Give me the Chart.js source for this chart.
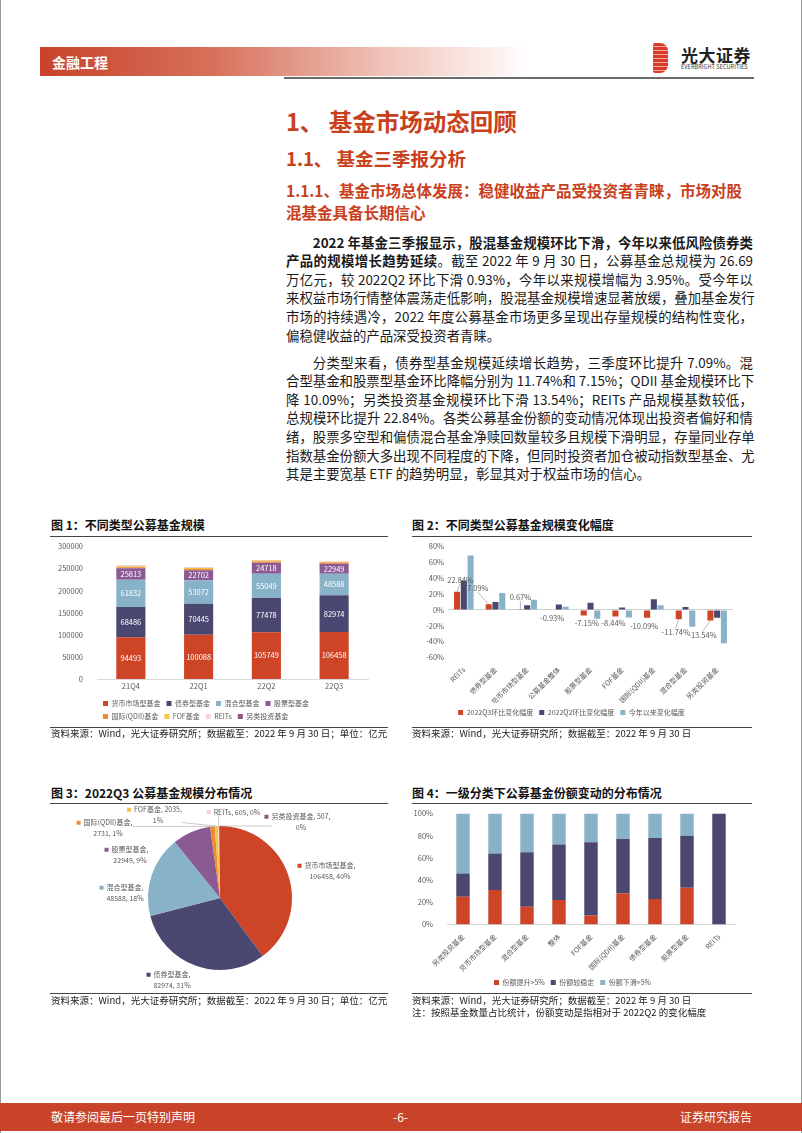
<!DOCTYPE html>
<html>
<head>
<meta charset="utf-8">
<script src="https://cdn.jsdelivr.net/npm/chart.js@4.4.0/dist/chart.umd.min.js"></script>
<style>
body{margin:0;width:802px;height:1133px;position:relative;background:#fff;overflow:hidden;
  font-family:"Noto Sans CJK SC",sans-serif;color:#222;}
.abs{position:absolute;}
.frame{position:absolute;top:0;bottom:0;width:1px;background:#9a9a9a;}
.hbar{left:40px;top:47px;width:490px;height:29px;
  background:linear-gradient(to right,#c8432a 0%,#d7705a 35%,#efc3b8 70%,rgba(255,255,255,0) 100%);}
.htxt{left:52px;top:52px;font-size:14px;font-weight:bold;color:#fff;line-height:20px;}
.hline{left:284px;top:77px;width:470px;height:2px;background:#6b6b6b;}
.h1{left:286px;top:105px;font-size:23.5px;font-weight:bold;color:#c8401c;line-height:32px;}
.h2{left:286px;top:145px;font-size:18.5px;font-weight:bold;color:#c8401c;line-height:26px;}
.h3{left:286px;top:180px;width:470px;font-size:15.5px;font-weight:bold;color:#c8401c;line-height:21.5px;}
.para{left:286px;width:467px;font-size:13.4px;line-height:18.6px;color:#1a1a1a;}
.para div{white-space:nowrap;text-align:justify;text-align-last:justify;}
.para div.first{text-indent:2em;}
.para div.last{text-align-last:left;}
.ftitle{font-size:12px;font-weight:bold;color:#111;line-height:16px;}
.rule{height:1px;background:#444;}
.src{font-size:9.5px;color:#222;line-height:12px;white-space:nowrap;}
.foot{left:0;top:1103px;width:802px;height:28px;background:#c8432a;}
.ftxt{top:1109px;font-size:12px;color:#fff;line-height:16px;}
canvas{position:absolute;}
</style>
</head>
<body>
<div class="frame" style="left:0"></div>
<div class="frame" style="left:801px"></div>

<div class="abs hbar"></div>
<div class="abs htxt">金融工程</div>
<div class="abs hline"></div>
<div class="abs" style="left:653px;top:43px;width:15px;height:30px;border-radius:2px 8px 8px 2px;
  background:repeating-linear-gradient(to bottom,#d83a2a 0,#d83a2a 3px,#f2a89c 3px,#f2a89c 4px);"></div>
<div class="abs" style="left:681px;top:44px;font-size:17px;font-weight:bold;color:#222;line-height:22px;letter-spacing:0.5px;">光大证券</div>
<div class="abs" style="left:681px;top:64px;font-size:5.5px;color:#333;line-height:7px;letter-spacing:0.1px;">EVERBRIGHT SECURITIES</div>

<div class="abs h1">1、 基金市场动态回顾</div>
<div class="abs h2">1.1、 基金三季报分析</div>
<div class="abs h3">1.1.1、基金市场总体发展：稳健收益产品受投资者青睐，市场对股<br>混基金具备长期信心</div>

<div class="abs para" style="top:232.7px;">
<div class="first"><b>2022 年基金三季报显示，股混基金规模环比下滑，今年以来低风险债券类</b></div>
<div><b>产品的规模增长趋势延续</b>。截至 2022 年 9 月 30 日，公募基金总规模为 26.69</div>
<div>万亿元，较 2022Q2 环比下滑 0.93%，今年以来规模增幅为 3.95%。受今年以</div>
<div>来权益市场行情整体震荡走低影响，股混基金规模增速显著放缓，叠加基金发行</div>
<div>市场的持续遇冷，2022 年度公募基金市场更多呈现出存量规模的结构性变化，</div>
<div class="last">偏稳健收益的产品深受投资者青睐。</div>
</div>
<div class="abs para" style="top:352.7px;">
<div class="first">分类型来看，债券型基金规模延续增长趋势，三季度环比提升 7.09%。混</div>
<div>合型基金和股票型基金环比降幅分别为 11.74%和 7.15%；QDII 基金规模环比下</div>
<div>降 10.09%；另类投资基金规模环比下滑 13.54%；REITs 产品规模基数较低，</div>
<div>总规模环比提升 22.84%。各类公募基金份额的变动情况体现出投资者偏好和情</div>
<div>绪，股票多空型和偏债混合基金净赎回数量较多且规模下滑明显，存量同业存单</div>
<div>指数基金份额大多出现不同程度的下降，但同时投资者加仓被动指数型基金、尤</div>
<div class="last">其是主要宽基 ETF 的趋势明显，彰显其对于权益市场的信心。</div>
</div>

<!-- 图1 / 图2 -->
<div class="abs ftitle" style="left:51px;top:517px;">图 1：不同类型公募基金规模</div>
<div class="abs rule" style="left:50px;top:536px;width:338px;"></div>
<div class="abs ftitle" style="left:412px;top:517px;">图 2：不同类型公募基金规模变化幅度</div>
<div class="abs rule" style="left:412px;top:536px;width:340px;"></div>
<canvas id="c1" width="340" height="194" style="left:50px;top:536px;"></canvas>
<canvas id="c2" width="350" height="188" style="left:410px;top:538px;"></canvas>
<div class="abs rule" style="left:50px;top:727px;width:338px;"></div>
<div class="abs rule" style="left:412px;top:727px;width:340px;"></div>
<div class="abs src" style="left:51px;top:727px;">资料来源：Wind，光大证券研究所；数据截至：2022 年 9 月 30 日；单位：亿元</div>
<div class="abs src" style="left:412px;top:727px;">资料来源：Wind，光大证券研究所；数据截至：2022 年 9 月 30 日</div>

<!-- 图3 / 图4 -->
<div class="abs ftitle" style="left:51px;top:785px;">图 3：2022Q3 公募基金规模分布情况</div>
<div class="abs rule" style="left:50px;top:803px;width:338px;"></div>
<div class="abs ftitle" style="left:412px;top:785px;">图 4：一级分类下公募基金份额变动的分布情况</div>
<div class="abs rule" style="left:412px;top:803px;width:340px;"></div>
<canvas id="c3" width="340" height="187" style="left:50px;top:805px;"></canvas>
<canvas id="c4" width="350" height="193" style="left:410px;top:803px;"></canvas>
<div class="abs rule" style="left:50px;top:993px;width:338px;"></div>
<div class="abs rule" style="left:412px;top:993px;width:340px;"></div>
<div class="abs src" style="left:51px;top:994px;">资料来源：Wind，光大证券研究所；数据截至：2022 年 9 月 30 日；单位：亿元</div>
<div class="abs src" style="left:412px;top:994px;">资料来源：Wind，光大证券研究所；数据截至：2022 年 9 月 30 日</div>
<div class="abs src" style="left:412px;top:1006px;">注：按照基金数量占比统计，份额变动是指相对于 2022Q2 的变化幅度</div>

<div class="abs foot"></div>
<div class="abs ftxt" style="left:51px;">敬请参阅最后一页特别声明</div>
<div class="abs ftxt" style="left:393px;">-6-</div>
<div class="abs ftxt" style="right:50px;">证券研究报告</div>

<script>
// 图1：不同类型公募基金规模（亿元）
const quarters = ['21Q4', '22Q1', '22Q2', '22Q3'];
const moneyFund = [94493, 100088, 105749, 106458];
const bondFund = [68486, 70445, 77478, 82974];
const mixedFund = [61832, 53072, 55049, 48588];
const stockFund = [25813, 22702, 24718, 22949];
const qdiiFund = [2576, 2676, 3037, 2731];
const fofFund = [2249, 2158, 2223, 2035];
const reitsFund = [359, 360, 493, 605];
const altFund = [874, 651, 586, 507];
const fundTypes = ['货币市场型基金', '债券型基金', '混合型基金', '股票型基金', '国际(QDII)基金', 'FOF基金', 'REITs', '另类投资基金'];

// 图2：规模变化幅度（%）
const changeCats = ['REITs', '债券型基金', '货币市场型基金', '公募基金整体', '股票型基金', 'FOF基金', '国际(QDII)基金', '混合型基金', '另类投资基金'];
const chgQ3 = [22.84, 7.09, 0.67, -0.93, -7.15, -8.44, -10.09, -11.74, -13.54];
const chgQ2 = [37.0, 10.0, 5.7, 6.8, 8.9, 3.0, 13.5, 3.7, -10.0];
const chgYtd = [68.6, 21.2, 12.7, 3.95, -11.1, -9.5, 6.0, -21.4, -42.0];
const changeSeries = ['2022Q3环比变化幅度', '2022Q2环比变化幅度', '今年以来变化幅度'];

// 图4：份额变动分布（%）
const shareCats = ['另类投资基金', '货币市场型基金', '混合型基金', '整体', 'FOF基金', '国际(QDII)基金', '债券型基金', '股票型基金', 'REITs'];
const shareUp = [25, 31, 16, 22, 8, 28, 23, 33, 0];
const shareStable = [21, 33, 49, 50, 66, 49, 55, 47, 100];
const shareDown = [54, 36, 35, 28, 26, 23, 22, 20, 0];
const shareSeries = ['份额提升>5%', '份额较稳定', '份额下滑>5%'];

const RED = '#cd4427', NAVY = '#4a4870', LBLUE = '#88b2c8';
const fundColors = [RED, NAVY, LBLUE, '#8a5a93', '#ef8a33', '#f5c548', '#f7d4d2', '#9b4f80'];

Chart.defaults.font.family = "'Noto Sans CJK SC', sans-serif";
Chart.defaults.font.size = 7.5;
Chart.defaults.color = '#595959';
Chart.defaults.animation = false;
Chart.defaults.plugins.tooltip.enabled = false;

// 柱内数值
const barValueLabels = {
    id: 'barValueLabels',
    afterDatasetsDraw(chart, args, opts) {
        if (!opts.datasets) return;
        const ctx = chart.ctx;
        ctx.save();
        ctx.font = "7.5px 'Noto Sans CJK SC'";
        ctx.fillStyle = '#fff';
        ctx.textAlign = 'center';
        ctx.textBaseline = 'middle';
        opts.datasets.forEach(i => {
            chart.getDatasetMeta(i).data.forEach((bar, j) => {
                ctx.fillText(String(chart.data.datasets[i].data[j]), bar.x, (bar.y + bar.base) / 2);
            });
        });
        ctx.restore();
    }
};

// 图2 第一组的百分比标签（带引线）
const changeLabels = {
    id: 'changeLabels',
    afterDatasetsDraw(chart, args, opts) {
        if (!opts.shift) return;
        const ctx = chart.ctx;
        ctx.save();
        ctx.font = "7.5px 'Noto Sans CJK SC'";
        ctx.textAlign = 'center';
        ctx.textBaseline = 'middle';
        chart.getDatasetMeta(0).data.forEach((bar, j) => {
            const v = chart.data.datasets[0].data[j];
            const [dx, dy] = opts.shift[j];
            const lx = bar.x + dx, ly = bar.y + dy;
            if (Math.abs(dy) > 10) {
                ctx.strokeStyle = '#8c8c8c';
                ctx.lineWidth = 0.6;
                ctx.beginPath();
                ctx.moveTo(bar.x, bar.y);
                ctx.lineTo(lx, ly + (dy < 0 ? 4 : -4));
                ctx.stroke();
            }
            ctx.fillStyle = '#595959';
            ctx.fillText(v.toFixed(2) + '%', lx, ly);
        });
        ctx.restore();
    }
};

// 图3 饼图外部标签
const pieOutLabels = {
    id: 'pieOutLabels',
    afterDatasetsDraw(chart, args, opts) {
        if (!opts.offsets) return;
        const ctx = chart.ctx;
        const ds = chart.data.datasets[0];
        const total = ds.data.reduce((a, b) => a + b, 0);
        ctx.save();
        ctx.font = "7px 'Noto Sans CJK SC'";
        ctx.textAlign = 'center';
        ctx.textBaseline = 'middle';
        chart.getDatasetMeta(0).data.forEach((arc, i) => {
            const p = arc.getProps(['x', 'y', 'startAngle', 'endAngle', 'outerRadius'], true);
            const mid = (p.startAngle + p.endAngle) / 2;
            const ex = p.x + Math.cos(mid) * p.outerRadius;
            const ey = p.y + Math.sin(mid) * p.outerRadius;
            const name = chart.data.labels[i], v = ds.data[i];
            const pct = Math.round(v / total * 100) + '%';
            let lines;
            if (opts.breaks[i] === 'name') lines = [name + ',', v + ', ' + pct];
            else if (opts.breaks[i] === 'value') lines = [name + ', ' + v + ',', pct];
            else lines = [name + ', ' + v + ', ' + pct];
            const lh = 10.5;
            const cx = p.x + opts.offsets[i][0], cy = p.y + opts.offsets[i][1];
            const top = cy - lines.length * lh / 2;
            const w = Math.max(...lines.map(l => ctx.measureText(l).width));
            if (opts.leader[i]) {
                const tx = Math.min(Math.max(ex, cx - w / 2), cx + w / 2);
                const ty = Math.min(Math.max(ey, top + 3), top + lines.length * lh - 3);
                ctx.strokeStyle = '#a6a6a6';
                ctx.lineWidth = 0.6;
                ctx.beginPath();
                ctx.moveTo(ex, ey);
                ctx.lineTo(tx, ty);
                ctx.stroke();
            }
            ctx.fillStyle = '#595959';
            lines.forEach((l, k) => ctx.fillText(l, cx, top + lh / 2 + k * lh));
            const w0 = ctx.measureText(lines[0]).width;
            ctx.fillStyle = ds.backgroundColor[i];
            ctx.fillRect(cx - w0 / 2 - 7, top + lh / 2 - 2, 4, 4);
        });
        ctx.restore();
    }
};

function bottomLegend(extra) {
    return Object.assign({
        position: 'bottom',
        labels: { boxWidth: 5, boxHeight: 5, padding: 6, font: { size: 7 }, color: '#595959' }
    }, extra || {});
}

// 图1
const fundSeries = [moneyFund, bondFund, mixedFund, stockFund, qdiiFund, fofFund, reitsFund, altFund];
new Chart(document.getElementById('c1'), {
    type: 'bar',
    data: {
        labels: quarters,
        datasets: fundTypes.map((n, i) => ({
            label: n, data: fundSeries[i], backgroundColor: fundColors[i],
            barPercentage: 0.43, categoryPercentage: 1
        }))
    },
    options: {
        responsive: false,
        layout: { padding: { top: 2, right: 22, left: 0, bottom: 0 } },
        plugins: {
            // 图例只占绘图区宽度，每行四项
            legend: bottomLegend({ fullSize: false, align: 'start' }),
            barValueLabels: { datasets: [0, 1, 2, 3] }
        },
        scales: {
            x: {
                stacked: true, grid: { display: false, drawTicks: false }, border: { color: '#d9d9d9' },
                ticks: { padding: 3 },
                afterFit(s) { s.height = 15; }
            },
            y: {
                stacked: true, min: 0, max: 300000,
                ticks: { stepSize: 50000, padding: 6, callback: v => String(v) },
                grid: { display: false }, border: { display: false },
                afterFit(s) { s.width = 47; }
            }
        }
    },
    plugins: [barValueLabels]
});

// 图2
new Chart(document.getElementById('c2'), {
    type: 'bar',
    data: {
        labels: changeCats,
        datasets: [chgQ3, chgQ2, chgYtd].map((d, i) => ({
            label: changeSeries[i], data: d, backgroundColor: [RED, NAVY, LBLUE][i],
            barPercentage: 0.9, categoryPercentage: 0.64
        }))
    },
    options: {
        responsive: false,
        layout: { padding: { top: 2, right: 27, left: 0, bottom: 0 } },
        plugins: {
            legend: bottomLegend(),
            changeLabels: { shift: [[3, -12], [-11, -16], [0, -12], [0, 8], [3, 8], [-2, 7], [-3, 8], [-3, 13], [-8, 15]] }
        },
        scales: {
            x: {
                grid: { display: false }, border: { display: false },
                ticks: { autoSkip: false, maxRotation: 45, minRotation: 45, padding: 0, font: { size: 7 } },
                afterFit(s) { s.height -= 3; }
            },
            y: {
                min: -60, max: 80, ticks: { stepSize: 20, padding: 4, callback: v => v + '%' },
                border: { display: false },
                grid: {
                    color: c => c.tick.value === 0 ? '#d0d0d0' : 'rgba(0,0,0,0)',
                    tickLength: 0
                },
                afterFit(s) { s.width = 38; }
            }
        }
    },
    plugins: [changeLabels]
});

// 图3
new Chart(document.getElementById('c3'), {
    type: 'pie',
    data: {
        labels: fundTypes,
        datasets: [{
            data: fundSeries.map(s => s[3]),
            backgroundColor: fundColors,
            borderWidth: 0
        }]
    },
    options: {
        responsive: false,
        layout: { padding: { top: 21, bottom: 22, left: 0, right: 0 } },
        plugins: {
            legend: { display: false },
            pieOutLabels: {
                offsets: [[110, -27], [-48, 82], [-95, -5], [-90, -43], [-112, -70], [-62, -83], [17, -86], [81, -76]],
                breaks: ['name', 'name', 'name', 'name', 'name', 'value', 'none', 'value'],
                leader: [false, false, false, false, true, true, true, true]
            }
        }
    },
    plugins: [pieOutLabels]
});

// 图4
new Chart(document.getElementById('c4'), {
    type: 'bar',
    data: {
        labels: shareCats,
        datasets: [shareUp, shareStable, shareDown].map((d, i) => ({
            label: shareSeries[i], data: d, backgroundColor: [RED, NAVY, LBLUE][i],
            barPercentage: 0.42, categoryPercentage: 1
        }))
    },
    options: {
        responsive: false,
        layout: { padding: { top: 5, right: 25, left: 0, bottom: 0 } },
        plugins: { legend: bottomLegend() },
        scales: {
            x: {
                stacked: true, grid: { display: false }, border: { color: '#d9d9d9' },
                ticks: { autoSkip: false, maxRotation: 45, minRotation: 45, padding: 0, font: { size: 7 } }
            },
            y: {
                stacked: true, min: 0, max: 100, ticks: { stepSize: 10, padding: 6, callback: v => v + '%' },
                grid: { display: false }, border: { display: false },
                afterFit(s) { s.width = 37; }
            }
        }
    }
});
</script>
</body>
</html>
